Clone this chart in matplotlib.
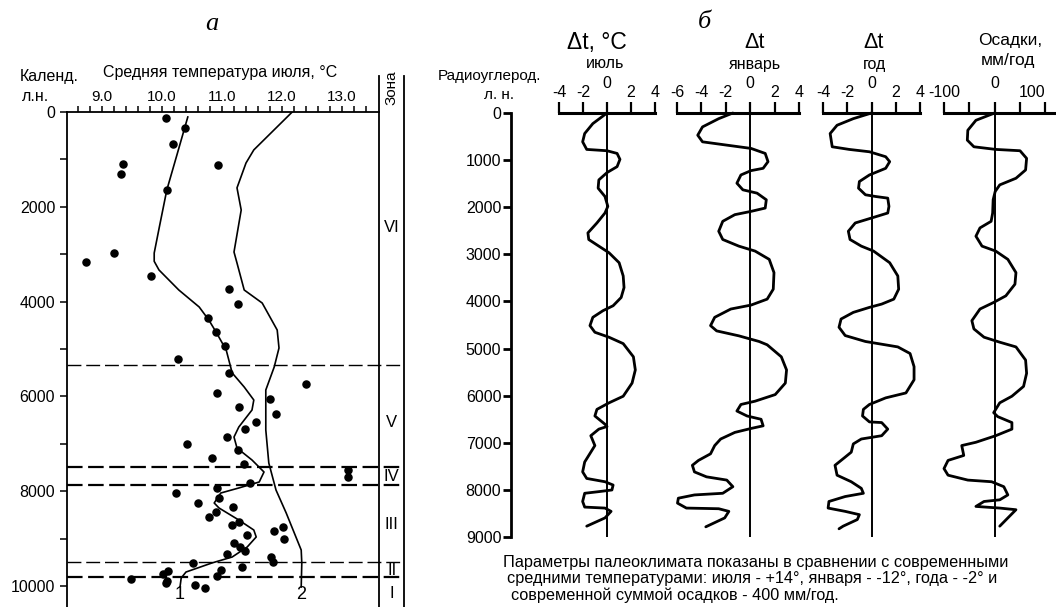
import matplotlib
matplotlib.use("Agg")
import matplotlib.pyplot as plt
from matplotlib.lines import Line2D

plt.rcParams['font.family'] = ['Liberation Sans', 'DejaVu Sans']

W, H = 1056, 607

# ---- panel a data: July temperature (dots + two curves) ----
dot_temp = [10.07, 10.38, 10.18, 9.35, 9.32, 10.93, 10.08, 9.2, 8.73, 9.82, 11.12, 11.27,
            10.77, 10.9, 11.05, 10.27, 11.12, 12.4, 10.92, 11.8, 11.28, 11.9, 11.57, 11.38,
            11.08, 10.42, 11.27, 10.83, 11.37, 13.1, 13.1, 11.47, 10.92, 10.23, 10.95, 10.6,
            11.18, 10.9, 10.78, 11.28, 11.17, 12.02, 11.87, 11.42, 12.03, 11.2, 11.3, 11.38,
            11.08, 11.82, 11.85, 10.52, 11.33, 10.98, 10.1, 10.02, 10.92, 9.48, 10.08, 10.07,
            10.55, 10.72]
dot_age = [127, 338, 675, 1097, 1308, 1118, 1646, 2975, 3165, 3460, 3734, 4051,
           4346, 4641, 4937, 5211, 5506, 5738, 5928, 6055, 6224, 6371, 6540, 6688,
           6857, 7004, 7131, 7300, 7426, 7553, 7700, 7827, 7932, 8038, 8143, 8249,
           8333, 8439, 8544, 8650, 8713, 8755, 8840, 8924, 9008, 9093, 9177, 9262,
           9325, 9388, 9494, 9515, 9599, 9663, 9684, 9747, 9789, 9852, 9895, 9937,
           9979, 10042]

curve1_temp = [10.43, 10.25, 10.08, 9.96, 9.87, 9.87, 9.95, 10.28, 10.62, 10.78, 10.9, 11.07,
               11.17, 11.37, 11.53, 11.5, 11.28, 11.2, 11.25, 11.5, 11.7, 11.62, 11.28, 10.98,
               10.87, 10.95, 11.28, 11.53, 11.57, 11.42, 11.17, 10.83, 10.4, 10.32, 10.3]
curve1_age = [105, 900, 1646, 2400, 2975, 3150, 3333, 3755, 4114, 4388, 4640, 5021,
              5506, 5802, 6076, 6287, 6646, 6857, 7089, 7342, 7595, 7806, 7932, 8038,
              8249, 8354, 8608, 8819, 8966, 9177, 9388, 9515, 9705, 9831, 10021]

curve2_temp = [12.17, 11.53, 11.4, 11.25, 11.32, 11.2, 11.25, 11.37, 11.67, 11.92, 11.95,
               11.87, 11.73, 11.73, 11.78, 11.9, 12.07, 12.32, 12.33, 12.32]
curve2_age = [0, 800, 1076, 1600, 2068, 2954, 3186, 3755, 4030, 4600, 4979,
              5380, 5865, 6709, 7405, 7975, 8460, 9241, 9515, 10021]

zone_bounds = [5338, 7489, 7869, 9494, 9810]
zone_bound_lw = [1.0, 1.6, 1.6, 1.0, 1.6]
zone_names = ['VI', 'V', 'IV', 'III', 'II', 'I']
zone_label_age = [2447, 6560, 7700, 8713, 9663, 10148]

# ---- panel b data: anomalies vs radiocarbon age ----
jul_dt = [0, -1.18, -1.86, -2.03, -1.69, 0, 0.84, 1.08, 0.84, 0, -0.68, -0.74, -0.17, 0.07,
          -0.17, -0.84, -1.59, -1.52, -0.68, 0.17, 1.01, 1.35, 1.42, 1.18, 0.51, -0.34,
          -1.18, -1.42, -1.01, 0.17, 1.35, 2.2, 2.36, 2.09, 1.35, 0.17, -0.84, -1.01, -0.17,
          0, -0.68, -1.35, -1.01, -1.35, -1.86, -2.03, -1.69, -0.17, 0.51, 0.41, -0.68,
          -1.86, -2.03, -1.86, -0.17, 0.34, -0.17, -1.69]
jul_age = [0, 225, 436, 612, 773, 801, 858, 984, 1139, 1265, 1420, 1596, 1772, 1982,
           2123, 2334, 2545, 2686, 2826, 2967, 3178, 3459, 3705, 3916, 4091, 4197,
           4337, 4513, 4654, 4760, 4895, 5175, 5454, 5733, 6012, 6152, 6291, 6431, 6606,
           6655, 6710, 6850, 7059, 7199, 7408, 7618, 7757, 7827, 7897, 8002, 8037,
           8072, 8246, 8365, 8386, 8456, 8595, 8770]

jan_dt = [-1.42, -2.58, -3.91, -4.3, -3.91, -1.92, 0.07, 1.23, 1.46, 1.06, 0.07, -0.76,
          -1.09, -0.6, 0.56, 1.32, 1.23, 0.07, -1.26, -2.25, -2.58, -2.25, -0.93, 0.4,
          1.56, 1.95, 1.89, 1.39, 0.07, -1.59, -2.91, -3.25, -2.75, -0.93, 0.73, 1.39,
          2.55, 2.98, 2.88, 2.05, 0.4, -0.76, -1.09, -0.26, 0.89, 1.06, 0.07, -1.26,
          -2.42, -2.91, -3.25, -4.24, -4.74, -4.57, -3.58, -1.92, -1.42, -2.25, -4.57,
          -5.89, -5.96, -5.23, -2.58, -1.75, -2.09, -3.64]
jan_age = [0, 120, 295, 471, 612, 682, 752, 858, 1033, 1174, 1223, 1315,
           1490, 1631, 1701, 1842, 2018, 2088, 2158, 2299, 2510, 2685, 2826, 2931,
           3107, 3388, 3740, 3951, 4077, 4161, 4337, 4513, 4625, 4730, 4850, 4920,
           5175, 5454, 5733, 5977, 6117, 6187, 6326, 6431, 6501, 6640, 6696, 6780,
           6920, 7059, 7234, 7374, 7478, 7618, 7723, 7792, 7932, 8072, 8107,
           8176, 8281, 8386, 8400, 8456, 8595, 8784]

year_dt = [0, -1.5, -2.84, -3.41, -3.24, -1.84, -0.17, 1.17, 1.5, 1.17, -0.17, -1.0,
           -1.07, -0.5, 0.33, 1.34, 1.44, 1.34, 0, -1.34, -1.91, -1.77, -0.84, 0.17,
           1.5, 2.17, 2.24, 1.84, 0.84, -0.17, -1.5, -2.51, -2.68, -2.17, -0.5, 2.17,
           3.18, 3.51, 3.51, 2.84, 1.17, -0.17, -0.67, -0.74, -0.17, 0.84, 1.34, 0.84,
           -0.84, -1.5, -1.67, -2.17, -3.01, -2.84, -1.67, -0.84, -0.67, -2.17, -3.51,
           -3.58, -2.17, -1.0, -1.17, -2.34, -2.68]
year_age = [0, 120, 260, 436, 717, 773, 823, 928, 1033, 1174, 1315, 1455,
            1596, 1736, 1772, 1807, 1982, 2123, 2229, 2334, 2510, 2685, 2826, 2931,
            3178, 3459, 3740, 3951, 4056, 4126, 4232, 4373, 4548, 4724, 4850, 4965,
            5105, 5384, 5663, 5942, 6047, 6187, 6291, 6431, 6557, 6571, 6710, 6850,
            6920, 7024, 7199, 7304, 7478, 7688, 7827, 7967, 8072, 8141, 8246,
            8386, 8456, 8526, 8630, 8770, 8826]

prec_d = [0, -37, -53, -54, -41, 2, 50, 63, 61, 42, 10, 1, -3, -4, -7, -29, -37, -25, 2,
          26, 42, 40, 22, -2, -29, -45, -41, -21, 10, 42, 61, 63, 57, 34, 10, -2, 6, 34,
          34, 2, -37, -65, -61, -92, -100, -92, -53, -6, 18, 26, 10, -21, -37, 10, 42,
          26, 10]
prec_age = [0, 155, 366, 576, 717, 773, 801, 963, 1209, 1385, 1526, 1666, 1842, 2123,
            2299, 2439, 2615, 2826, 2931, 3107, 3388, 3634, 3881, 4021, 4161, 4408,
            4583, 4759, 4865, 4965, 5244, 5524, 5803, 6012, 6152, 6361, 6445, 6571,
            6710, 6850, 6989, 7059, 7269, 7374, 7548, 7688, 7792, 7827, 7932, 8107,
            8211, 8246, 8351, 8386, 8421, 8595, 8770]

fig = plt.figure(figsize=(W / 100, H / 100), dpi=100)


def px_axes(x0, x1, y0, y1):
    return fig.add_axes([x0 / W, 1 - y1 / H, (x1 - x0) / W, (y1 - y0) / H])


def fx(x):
    return x / W


def fy(y):
    return 1 - y / H


# ================= panel a =================
ax = px_axes(67, 379, 112, 607)
t_left = 9 + (67 - 102) / 60
t_right = 9 + (379 - 102) / 60
ax.set_xlim(t_left, t_right)
ax.set_ylim(10443, 0)
ax.spines['bottom'].set_visible(False)
ax.spines['right'].set_visible(False)
for s in ['left', 'top']:
    ax.spines[s].set_linewidth(1.3)

ax.xaxis.tick_top()
ax.set_xticks([9, 10, 11, 12, 13], labels=['9.0', '10.0', '11.0', '12.0', '13.0'])
ax.set_xticks([8.6, 8.8, 9.2, 9.4, 9.6, 9.8, 10.2, 10.4, 10.6, 10.8, 11.2, 11.4, 11.6, 11.8,
               12.2, 12.4, 12.6, 12.8, 13.2, 13.4], minor=True)
ax.tick_params(axis='x', which='both', direction='out', length=4, width=1.1, pad=2,
               labelsize=11)
ax.set_yticks(range(0, 10001, 2000))
ax.set_yticks([1000, 3000, 5000, 7000, 9000], minor=True)
ax.tick_params(axis='y', which='both', direction='out', length=5, width=1.1, labelsize=11.5)

ax.scatter(dot_temp, dot_age, s=26, color='black', zorder=3, clip_on=False)
ax.plot(curve1_temp, curve1_age, color='black', lw=1.2)
ax.plot(curve2_temp, curve2_age, color='black', lw=1.2)

zone_xmax = (404 - 67) / (379 - 67)
for b, lw in zip(zone_bounds, zone_bound_lw):
    ax.axhline(b, xmin=0, xmax=zone_xmax, color='black', lw=lw,
               linestyle=(0, (7, 2.5)) if lw > 1.2 else (0, (10, 3.5)), clip_on=False)

# zone column
for xp in (379, 404):
    fig.add_artist(Line2D([fx(xp), fx(xp)], [fy(76), fy(607)], color='black', lw=1.3))
fig.text(fx(392), fy(88), 'Зона', rotation=90, ha='center', va='center', fontsize=11)
for name, age in zip(zone_names, zone_label_age):
    ax.text(14.03 - 0.2, age, name, ha='center', va='center', fontsize=12)

ax.text(10.3, 10000, '1', ha='center', va='top', fontsize=13)
ax.text(12.32, 10000, '2', ha='center', va='top', fontsize=13)

fig.text(fx(212), fy(24), 'а', fontsize=19, family='Liberation Serif', style='italic',
         ha='center', va='center')
fig.text(fx(220), fy(73), 'Средняя температура июля, °С', fontsize=11.5, ha='center',
         va='center')
fig.text(fx(49), fy(77), 'Календ.', fontsize=11.5, ha='center', va='center')
fig.text(fx(36), fy(97), 'л.н.', fontsize=11.5, ha='center', va='center')

# ================= panel b =================
ay = px_axes(511, 520, 113, 537)
ay.set_ylim(9000, 0)
ay.set_xticks([])
for s in ['top', 'right', 'bottom']:
    ay.spines[s].set_visible(False)
ay.spines['left'].set_linewidth(2)
ay.set_yticks(range(0, 9001, 1000))
ay.tick_params(axis='y', direction='out', length=6, width=2, labelsize=11.5, pad=1)
ay.patch.set_alpha(0)

columns = [
    (559, 655, (-4, 4), [-4, -2, 0, 2, 4], ['-4', '-2', '', '2', '4'], jul_dt, jul_age),
    (677, 799, (-6, 4), [-6, -4, -2, 0, 2, 4], ['-6', '-4', '-2', '', '2', '4'], jan_dt, jan_age),
    (823, 920, (-4, 4), [-4, -2, 0, 2, 4], ['-4', '-2', '', '2', '4'], year_dt, year_age),
    (944, 1056, (-100, 121), [-100, -50, 0, 50, 100], ['-100', '', '', '', '100'], prec_d, prec_age),
]
for x0, x1, lim, ticks, labels, vals, ages in columns:
    a = px_axes(x0, x1, 113, 537)
    a.set_xlim(*lim)
    a.set_ylim(9000, 0)
    a.patch.set_alpha(0)
    for s in ['left', 'right', 'bottom']:
        a.spines[s].set_visible(False)
    a.spines['top'].set_linewidth(2.2)
    a.xaxis.tick_top()
    a.set_yticks([])
    a.set_xticks(ticks, labels=labels)
    a.tick_params(axis='x', direction='out', length=8, width=1.6, pad=1, labelsize=11.5)
    a.annotate('0', xy=(0, 1), xycoords=('data', 'axes fraction'), xytext=(0, 16),
               textcoords='offset points', ha='center', va='bottom', fontsize=11.5,
               annotation_clip=False)
    a.axvline(0, color='black', lw=1.4)
    a.plot(vals, ages, color='black', lw=2.0, clip_on=False, solid_joinstyle='round',
           solid_capstyle='round')
    last_ax = a

# keep the "100" label of the precipitation scale inside the picture
last_ax.get_xticklabels()[-1].set_horizontalalignment('right')
last_ax.get_xticklabels()[-1].set_x(100)

fig.text(fx(704), fy(22), 'б', fontsize=19, family='Liberation Serif', style='italic',
         ha='center', va='center')
fig.text(fx(597), fy(42), 'Δt, °C', fontsize=16.5, ha='center', va='center')
fig.text(fx(605), fy(64), 'июль', fontsize=11.5, ha='center', va='center')
fig.text(fx(755), fy(42), 'Δt', fontsize=15.5, ha='center', va='center')
fig.text(fx(755), fy(64), 'январь', fontsize=11.5, ha='center', va='center')
fig.text(fx(874), fy(42), 'Δt', fontsize=15.5, ha='center', va='center')
fig.text(fx(874), fy(64), 'год', fontsize=11.5, ha='center', va='center')
fig.text(fx(1010), fy(40), 'Осадки,', fontsize=12.5, ha='center', va='center')
fig.text(fx(1008), fy(60), 'мм/год', fontsize=12.5, ha='center', va='center')
fig.text(fx(489), fy(76), 'Радиоуглерод.', fontsize=11, ha='center', va='center')
fig.text(fx(499), fy(95), 'л. н.', fontsize=11, ha='center', va='center')

caption = ['Параметры палеоклимата показаны в сравнении с современными',
           'средними температурами: июля - +14°, января - -12°, года - -2° и',
           'современной суммой осадков - 400 мм/год.']
for i, (line, x0) in enumerate(zip(caption, [503, 507, 511])):
    fig.text(fx(x0), fy(563 + 16 * i), line, fontsize=11.7, ha='left', va='center')

fig.savefig('out.png', dpi=100)
